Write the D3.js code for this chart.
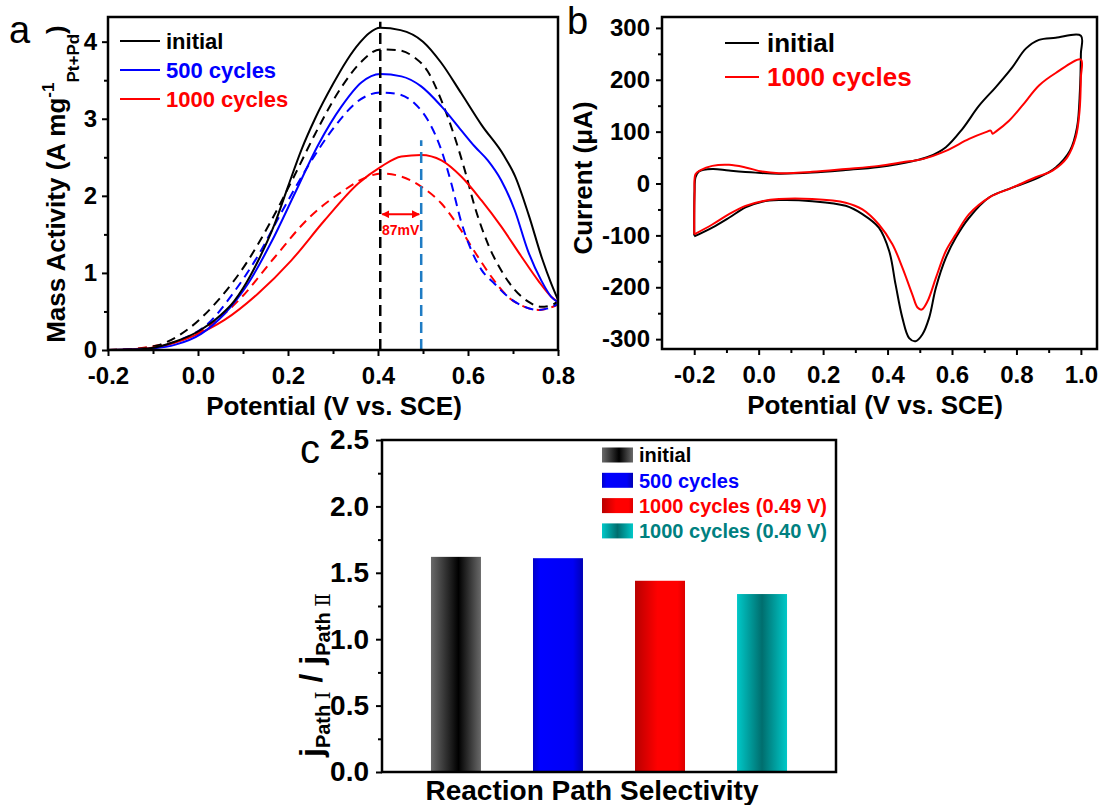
<!DOCTYPE html>
<html>
<head>
<meta charset="utf-8">
<title>Mass activity, CV and path selectivity</title>
<script src="https://cdn.jsdelivr.net/npm/d3@7"></script>
<style>
  body { margin: 0; background: #fff; }
  svg text { font-family: "Liberation Sans", Arial, sans-serif; font-weight: bold; }
</style>
</head>
<body>
<div id="fig"></div>
<script>

// ---- panel a : mass activity vs potential, [E (V vs SCE), A mg-1]
const maInitial = [[-0.2,0],[-0.15,0.005],[-0.11,0.02],[-0.05,0.11],[0,0.24],[0.05,0.45],[0.08,0.63],[0.1,0.8],[0.138,1.21],[0.17,1.63],[0.2,2.12],[0.23,2.6],[0.26,3.0],[0.3,3.45],[0.33,3.75],[0.36,3.99],[0.38,4.11],[0.405,4.18],[0.45,4.15],[0.5,4.0],[0.54,3.73],[0.585,3.33],[0.63,2.92],[0.68,2.52],[0.705,2.25],[0.735,1.75],[0.765,1.18],[0.785,0.86],[0.8,0.65]];
const maInitialDash = [[-0.2,0],[-0.15,0.01],[-0.09,0.06],[-0.02,0.28],[0.044,0.64],[0.11,1.15],[0.163,1.68],[0.215,2.27],[0.26,2.8],[0.32,3.42],[0.363,3.74],[0.405,3.9],[0.444,3.89],[0.48,3.8],[0.51,3.62],[0.54,3.25],[0.57,2.77],[0.593,2.33],[0.615,1.86],[0.644,1.38],[0.674,1.03],[0.704,0.78],[0.733,0.63],[0.763,0.56],[0.785,0.58],[0.8,0.63]];
const ma500 = [[-0.2,0],[-0.15,0.005],[-0.1,0.02],[-0.05,0.07],[0.007,0.21],[0.059,0.47],[0.111,0.86],[0.163,1.4],[0.215,2.03],[0.267,2.66],[0.319,3.16],[0.363,3.47],[0.405,3.58],[0.452,3.55],[0.496,3.42],[0.541,3.16],[0.585,2.85],[0.615,2.64],[0.644,2.46],[0.674,2.2],[0.704,1.81],[0.733,1.29],[0.763,0.9],[0.785,0.69],[0.8,0.62]];
const ma500Dash = [[-0.2,0],[-0.15,0.005],[-0.1,0.03],[-0.04,0.13],[0.022,0.34],[0.081,0.76],[0.133,1.22],[0.185,1.78],[0.244,2.38],[0.304,2.9],[0.356,3.23],[0.405,3.34],[0.444,3.32],[0.481,3.2],[0.511,2.98],[0.541,2.59],[0.563,2.16],[0.585,1.66],[0.607,1.3],[0.63,1.04],[0.659,0.86],[0.689,0.69],[0.726,0.56],[0.756,0.52],[0.778,0.54],[0.8,0.6]];
const ma1000 = [[-0.2,0],[-0.15,0.01],[-0.089,0.04],[-0.015,0.17],[0.059,0.39],[0.133,0.73],[0.207,1.16],[0.281,1.68],[0.356,2.16],[0.407,2.38],[0.452,2.51],[0.496,2.53],[0.541,2.46],[0.585,2.25],[0.63,1.94],[0.674,1.6],[0.719,1.21],[0.756,0.9],[0.785,0.69],[0.8,0.62]];
const ma1000Dash = [[-0.2,0],[-0.15,0.01],[-0.1,0.05],[-0.052,0.1],[0.022,0.3],[0.096,0.68],[0.17,1.2],[0.244,1.7],[0.319,2.05],[0.378,2.25],[0.407,2.29],[0.452,2.25],[0.496,2.12],[0.541,1.9],[0.585,1.55],[0.622,1.21],[0.652,0.95],[0.689,0.69],[0.726,0.56],[0.756,0.52],[0.778,0.54],[0.8,0.59]];
const peakE = [0.405, 0.496];      // peak potential initial / 1000 cycles
const peakTop = [4.26, 2.72];
const shiftLabel = "87mV";
const aXTicks = [-0.2, 0, 0.2, 0.4, 0.6, 0.8];
const aYTicks = [0, 1, 2, 3, 4];
const aLegend = ["initial", "500 cycles", "1000 cycles"];

// ---- panel b : CV, [E (V vs SCE), I (uA)]
const cvInitial = [[-0.2,-100],[-0.199,-15],[-0.196,12],[-0.186,23],[-0.144,28],[-0.092,25],[-0.01,21],[0.063,19],[0.166,21],[0.27,26],[0.373,32],[0.477,43],[0.529,52],[0.581,70],[0.632,105],[0.684,150],[0.736,186],[0.787,224],[0.829,260],[0.87,277],[0.922,281],[1.0,285],
  [1.0,250],[0.997,179],[0.988,108],[0.966,63],[0.922,31],[0.87,12],[0.787,-8],[0.715,-27],[0.653,-66],[0.612,-104],[0.581,-143],[0.55,-201],[0.529,-259],[0.508,-291],[0.487,-304],[0.467,-298],[0.446,-259],[0.425,-195],[0.405,-130],[0.373,-85],[0.322,-59],[0.27,-43],[0.166,-34],[0.063,-32],[0.011,-35],[-0.041,-46],[-0.092,-66],[-0.144,-85],[-0.2,-102]];
const cv1000 = [[-0.2,-98],[-0.199,-20],[-0.196,18],[-0.18,26],[-0.144,34],[-0.092,36],[-0.041,31],[0.011,23],[0.063,20],[0.166,22.5],[0.27,28],[0.373,34],[0.446,41],[0.508,47],[0.581,63],[0.653,86],[0.705,99],[0.72,102],[0.726,96],[0.736,100],[0.777,121],[0.818,150],[0.87,189],[0.922,213],[1.0,239],
  [1.0,205],[0.996,141],[0.984,89],[0.957,50],[0.912,25],[0.86,12],[0.787,-8],[0.715,-27],[0.653,-59],[0.612,-98],[0.581,-130],[0.55,-182],[0.524,-227],[0.506,-243],[0.493,-239],[0.477,-214],[0.446,-162],[0.415,-117],[0.373,-79],[0.322,-50],[0.27,-37],[0.166,-30],[0.063,-30],[0.011,-34],[-0.041,-43],[-0.092,-59],[-0.144,-79],[-0.2,-98]];
const bXTicks = [-0.2, 0, 0.2, 0.4, 0.6, 0.8, 1.0];
const bYTicks = [-300, -200, -100, 0, 100, 200, 300];
const bLegend = ["initial", "1000 cycles"];

// ---- panel c : j(path I) / j(path II)
const selCats = ["initial", "500 cycles", "1000 cycles (0.49 V)", "1000 cycles (0.40 V)"];
const selVals = [1.62, 1.61, 1.44, 1.34];
const cYTicks = [0, 0.5, 1.0, 1.5, 2.0, 2.5];

const black = "#000", blue = "#0000ff", red = "#ff0000", teal = "#008080";

const svg = d3.select("#fig").append("svg")
  .attr("width", 1102)
  .attr("height", 805);

const defs = svg.append("defs");

function styleAxis(g, size) {
  g.select(".domain").remove();
  g.selectAll(".tick line").attr("stroke-width", 2);
  g.selectAll(".tick text").style("font-size", size + "px").attr("fill", "#000");
}

function frame(x0, y0, x1, y1) {
  svg.append("rect")
    .attr("x", x0).attr("y", y0)
    .attr("width", x1 - x0).attr("height", y1 - y0)
    .attr("fill", "none")
    .attr("stroke", "#000")
    .attr("stroke-width", 2.5);
}

/* ================= panel a ================= */
const xa = d3.scaleLinear().domain([-0.2, 0.8]).range([108, 558]);
const ya = d3.scaleLinear().domain([0, 4.32]).range([350, 17]);

const lineA = d3.line()
  .x(d => xa(d[0]))
  .y(d => ya(d[1]))
  .curve(d3.curveMonotoneX);

const seriesA = [
  {d: ma1000Dash, c: red, dash: "9,6"},
  {d: ma500Dash, c: blue, dash: "9,6"},
  {d: maInitialDash, c: black, dash: "9,6"},
  {d: ma1000, c: red, dash: null},
  {d: ma500, c: blue, dash: null},
  {d: maInitial, c: black, dash: null}
];

svg.append("g").selectAll("path")
  .data(seriesA)
  .enter().append("path")
  .attr("d", s => lineA(s.d))
  .attr("fill", "none")
  .attr("stroke", s => s.c)
  .attr("stroke-width", 2)
  .attr("stroke-dasharray", s => s.dash);

// peak markers
svg.append("g").selectAll("line")
  .data(peakE)
  .enter().append("line")
  .attr("x1", d => xa(d)).attr("x2", d => xa(d))
  .attr("y1", ya(0))
  .attr("y2", (d, i) => ya(peakTop[i]))
  .attr("stroke", (d, i) => i == 0 ? "#000" : "#1f7cc4")
  .attr("stroke-width", 2.5)
  .attr("stroke-dasharray", "11,6");

defs.append("marker")
  .attr("id", "arr")
  .attr("viewBox", "0 0 10 10")
  .attr("refX", 9).attr("refY", 5)
  .attr("markerWidth", 4).attr("markerHeight", 4)
  .attr("orient", "auto-start-reverse")
  .append("path").attr("d", "M0,0L10,5L0,10z").attr("fill", red);

svg.append("line")
  .attr("x1", xa(peakE[0]) + 2).attr("x2", xa(peakE[1]) - 2)
  .attr("y1", ya(1.76)).attr("y2", ya(1.76))
  .attr("stroke", red).attr("stroke-width", 2)
  .attr("marker-start", "url(#arr)")
  .attr("marker-end", "url(#arr)");

svg.append("text")
  .attr("x", (xa(peakE[0]) + xa(peakE[1])) / 2)
  .attr("y", 235)
  .attr("text-anchor", "middle")
  .style("font-size", "14px")
  .attr("fill", red)
  .text(shiftLabel);

frame(108, 17, 558, 350);

var gxa = svg.append("g").attr("transform", "translate(0,350)")
  .call(d3.axisBottom(xa).tickValues(aXTicks).tickFormat(d => d.toFixed(1)).tickSize(6).tickPadding(11));
styleAxis(gxa, 24);
var gxa2 = svg.append("g").attr("transform", "translate(0,350)")
  .call(d3.axisBottom(xa).tickValues(d3.range(-0.1, 0.8, 0.2)).tickFormat("").tickSize(4));
styleAxis(gxa2, 0);

var gya = svg.append("g").attr("transform", "translate(108,0)")
  .call(d3.axisLeft(ya).tickValues(aYTicks).tickFormat(d => d.toString()).tickSize(6).tickPadding(5));
styleAxis(gya, 24);
var gya2 = svg.append("g").attr("transform", "translate(108,0)")
  .call(d3.axisLeft(ya).tickValues(d3.range(0.5, 4.3, 1)).tickFormat("").tickSize(4));
styleAxis(gya2, 0);

svg.append("text")
  .attr("x", 334).attr("y", 415)
  .attr("text-anchor", "middle")
  .style("font-size", "26px")
  .text("Potential (V vs. SCE)");

var tya = svg.append("text")
  .attr("transform", "translate(65,184) rotate(-90)")
  .attr("text-anchor", "middle")
  .style("font-size", "26px");
tya.append("tspan").text("Mass Activity (A mg");
tya.append("tspan").attr("dy", -11).style("font-size", "17px").text("-1");
tya.append("tspan").attr("dy", 25).style("font-size", "17px").text("Pt+Pd");
tya.append("tspan").attr("dy", -14).text(")");

// legend a
var legA = svg.append("g").selectAll("g")
  .data(aLegend)
  .enter().append("g")
  .attr("transform", (d, i) => "translate(120," + (41 + i * 29) + ")");
legA.append("line").attr("x1", 0).attr("x2", 40)
  .attr("stroke", (d, i) => [black, blue, red][i]).attr("stroke-width", 2);
legA.append("text").attr("x", 46).attr("dy", "0.36em")
  .style("font-size", "22px")
  .attr("fill", (d, i) => [black, blue, red][i])
  .text(d => d);

svg.append("text").attr("x", 9).attr("y", 43)
  .style("font-size", "38px").style("font-weight", "normal").text("a");

/* ================= panel b ================= */
const xb = d3.scaleLinear().domain([-0.3, 1.05]).range([662, 1097]);
const yb = d3.scaleLinear().domain([-319, 321]).range([349, 17]);

const lineB = d3.line()
  .x(d => xb(d[0]))
  .y(d => yb(d[1]))
  .curve(d3.curveCatmullRom.alpha(0.5));

svg.append("path").attr("d", lineB(cvInitial))
  .attr("fill", "none").attr("stroke", black).attr("stroke-width", 2);
svg.append("path").attr("d", lineB(cv1000))
  .attr("fill", "none").attr("stroke", red).attr("stroke-width", 2);

frame(662, 17, 1097, 349);

var gxb = svg.append("g").attr("transform", "translate(0,349)")
  .call(d3.axisBottom(xb).tickValues(bXTicks).tickFormat(d => d.toFixed(1)).tickSize(6).tickPadding(11));
styleAxis(gxb, 24);
var gxb2 = svg.append("g").attr("transform", "translate(0,349)")
  .call(d3.axisBottom(xb).tickValues(d3.range(-0.1, 1.0, 0.2)).tickFormat("").tickSize(4));
styleAxis(gxb2, 0);

var gyb = svg.append("g").attr("transform", "translate(662,0)")
  .call(d3.axisLeft(yb).tickValues(bYTicks).tickFormat(d => d.toString()).tickSize(6).tickPadding(6));
styleAxis(gyb, 24);
var gyb2 = svg.append("g").attr("transform", "translate(662,0)")
  .call(d3.axisLeft(yb).tickValues(d3.range(-250, 300, 100)).tickFormat("").tickSize(4));
styleAxis(gyb2, 0);

svg.append("text")
  .attr("x", 875).attr("y", 414)
  .attr("text-anchor", "middle")
  .style("font-size", "26px")
  .text("Potential (V vs. SCE)");

svg.append("text")
  .attr("transform", "translate(592,178) rotate(-90)")
  .attr("text-anchor", "middle")
  .style("font-size", "26px")
  .text("Current (μA)");

var legB = svg.append("g").selectAll("g")
  .data(bLegend)
  .enter().append("g")
  .attr("transform", (d, i) => "translate(725," + (43 + i * 34) + ")");
legB.append("line").attr("x1", 0).attr("x2", 34)
  .attr("stroke", (d, i) => [black, red][i]).attr("stroke-width", 2);
legB.append("text").attr("x", 42).attr("dy", "0.36em")
  .style("font-size", "26px")
  .attr("fill", (d, i) => [black, red][i])
  .text(d => d);

svg.append("text").attr("x", 567).attr("y", 34)
  .style("font-size", "38px").style("font-weight", "normal").text("b");

/* ================= panel c ================= */
const grads = [
  {id: "gInit", stops: [[0, "#6a6a6a"], [0.55, "#000"], [1, "#6a6a6a"]]},
  {id: "g500", stops: [[0, "#0000c8"], [0.15, "#0000ff"], [0.8, "#0000f5"], [1, "#0000b4"]]},
  {id: "g1000a", stops: [[0, "#b80000"], [0.45, "#ff0000"], [0.85, "#ff0000"], [1, "#dc0000"]]},
  {id: "g1000b", stops: [[0, "#00c8c8"], [0.5, "#006e6e"], [1, "#00c8c8"]]}
];
grads.forEach(function(g) {
  var lg = defs.append("linearGradient").attr("id", g.id)
    .attr("x1", "0%").attr("x2", "100%").attr("y1", "0%").attr("y2", "0%");
  g.stops.forEach(s => lg.append("stop").attr("offset", s[0]).attr("stop-color", s[1]));
});
const legColors = [black, blue, red, teal];

const xc = d3.scaleBand().domain(selCats).range([382, 836]).paddingInner(0.51).paddingOuter(0.48);
const yc = d3.scaleLinear().domain([0, 2.5]).range([772, 440]);

svg.append("g").selectAll("rect")
  .data(selVals)
  .enter().append("rect")
  .attr("x", (d, i) => xc(selCats[i]))
  .attr("width", xc.bandwidth())
  .attr("y", d => yc(d))
  .attr("height", d => yc(0) - yc(d))
  .attr("fill", (d, i) => "url(#" + grads[i].id + ")");

frame(382, 440, 836, 772);

var gyc = svg.append("g").attr("transform", "translate(382,0)")
  .call(d3.axisLeft(yc).tickValues(cYTicks).tickFormat(d => d.toFixed(1)).tickSize(6).tickPadding(7));
styleAxis(gyc, 28);
var gyc2 = svg.append("g").attr("transform", "translate(382,0)")
  .call(d3.axisLeft(yc).tickValues(d3.range(0.25, 2.5, 0.5)).tickFormat("").tickSize(4));
styleAxis(gyc2, 0);

svg.append("text")
  .attr("x", 592).attr("y", 800)
  .attr("text-anchor", "middle")
  .style("font-size", "28px")
  .text("Reaction Path Selectivity");

var tyc = svg.append("text")
  .attr("transform", "translate(322,757) rotate(-90)")
  .style("font-size", "32px");
tyc.append("tspan").text("j");
tyc.append("tspan").attr("dy", 8).style("font-size", "20px").text("Path ");
tyc.append("tspan").style("font-size", "20px").style("font-family", "'DejaVu Serif', serif").style("font-weight", "normal").text("Ⅰ");
tyc.append("tspan").attr("dy", -8).text(" / j");
tyc.append("tspan").attr("dy", 8).style("font-size", "20px").text("Path ");
tyc.append("tspan").style("font-size", "20px").style("font-family", "'DejaVu Serif', serif").style("font-weight", "normal").text("Ⅱ");

var legC = svg.append("g").selectAll("g")
  .data(selCats)
  .enter().append("g")
  .attr("transform", (d, i) => "translate(602," + (455 + i * 25.3) + ")");
legC.append("rect").attr("x", 0).attr("y", -7.5).attr("width", 31).attr("height", 15)
  .attr("fill", (d, i) => "url(#" + grads[i].id + ")");
legC.append("text").attr("x", 37).attr("dy", "0.36em")
  .style("font-size", "20px")
  .attr("fill", (d, i) => legColors[i])
  .text(d => d);

svg.append("text").attr("x", 300).attr("y", 463)
  .style("font-size", "40px").style("font-weight", "normal").text("c");

</script>
</body>
</html>
